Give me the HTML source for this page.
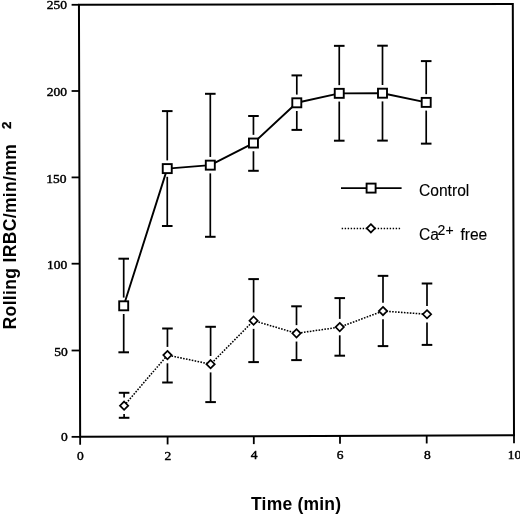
<!DOCTYPE html>
<html><head><meta charset="utf-8"><style>
html,body{margin:0;padding:0;background:#fff;}
body{width:520px;height:515px;overflow:hidden;}
svg{display:block;will-change:transform;}
.tk{font-family:"Liberation Serif",serif;font-size:13.5px;fill:#000;stroke:#000;stroke-width:0.45px;}
.lg{font-family:"Liberation Sans",sans-serif;font-size:15.6px;fill:#000;stroke:#000;stroke-width:0.12px;}
.sup{font-family:"Liberation Sans",sans-serif;font-size:14px;fill:#000;stroke:#000;stroke-width:0.15px;}
.ax{font-family:"Liberation Sans",sans-serif;font-weight:bold;font-size:17.5px;fill:#000;letter-spacing:0.2px;}
.yl{font-size:17.5px;letter-spacing:0.35px;}
.ax2{font-family:"Liberation Sans",sans-serif;font-weight:bold;font-size:13.5px;fill:#000;stroke:#000;stroke-width:0.3px;}
</style></head><body>
<svg width="520" height="515" viewBox="0 0 520 515">
<rect width="520" height="515" fill="#fff"/>
<polygon points="78.95,4.85 512.8,3.9 514,435.25 80.15,436.85" fill="none" stroke="#000" stroke-width="2" stroke-linejoin="miter"/>
<line x1="71.6" y1="436.85" x2="80.15" y2="436.85" stroke="#000" stroke-width="1.8"/>
<line x1="71.6" y1="350.5" x2="79.91" y2="350.5" stroke="#000" stroke-width="1.8"/>
<line x1="71.6" y1="263.7" x2="79.67" y2="263.7" stroke="#000" stroke-width="1.8"/>
<line x1="71.6" y1="177.4" x2="79.43" y2="177.4" stroke="#000" stroke-width="1.8"/>
<line x1="71.6" y1="91" x2="79.19" y2="91" stroke="#000" stroke-width="1.8"/>
<line x1="71.6" y1="4.8" x2="78.95" y2="4.8" stroke="#000" stroke-width="1.8"/>
<line x1="80.15" y1="436.85" x2="80.15" y2="444.75" stroke="#000" stroke-width="1.8"/>
<line x1="167.6" y1="436.53" x2="167.6" y2="444.43" stroke="#000" stroke-width="1.8"/>
<line x1="253.8" y1="436.21" x2="253.8" y2="444.11" stroke="#000" stroke-width="1.8"/>
<line x1="340" y1="435.89" x2="340" y2="443.79" stroke="#000" stroke-width="1.8"/>
<line x1="426.7" y1="435.57" x2="426.7" y2="443.47" stroke="#000" stroke-width="1.8"/>
<line x1="514" y1="435.25" x2="514" y2="443.15" stroke="#000" stroke-width="1.8"/>
<text transform="translate(66.9,9.1) scale(1,0.95)" text-anchor="end" class="tk">250</text>
<text transform="translate(67.1,95.5) scale(1,0.95)" text-anchor="end" class="tk">200</text>
<text transform="translate(66.5,182.5) scale(1,0.95)" text-anchor="end" class="tk">150</text>
<text transform="translate(67.3,268.7) scale(1,0.95)" text-anchor="end" class="tk">100</text>
<text transform="translate(67.8,355.7) scale(1,0.95)" text-anchor="end" class="tk">50</text>
<text transform="translate(67.7,441.4) scale(1,0.95)" text-anchor="end" class="tk">0</text>
<text transform="translate(80.4,460.2) scale(1,0.95)" text-anchor="middle" class="tk">0</text>
<text transform="translate(167.9,459.8) scale(1,0.95)" text-anchor="middle" class="tk">2</text>
<text transform="translate(254.2,459.1) scale(1,0.95)" text-anchor="middle" class="tk">4</text>
<text transform="translate(340,459.1) scale(1,0.95)" text-anchor="middle" class="tk">6</text>
<text transform="translate(427.3,459.1) scale(1,0.95)" text-anchor="middle" class="tk">8</text>
<text transform="translate(514.5,458.9) scale(1,0.95)" text-anchor="middle" class="tk">10</text>
<g stroke="#000" fill="none">
<line x1="123.7" y1="258.7" x2="123.7" y2="297.6" stroke-width="1.7"/><line x1="123.7" y1="314" x2="123.7" y2="352.3" stroke-width="1.7"/><line x1="118.4" y1="258.7" x2="129" y2="258.7" stroke-width="2.0"/><line x1="118.4" y1="352.3" x2="129" y2="352.3" stroke-width="2.0"/>
<line x1="167.25" y1="111.1" x2="167.25" y2="160.4" stroke-width="1.7"/><line x1="167.25" y1="176.8" x2="167.25" y2="226" stroke-width="1.7"/><line x1="161.95" y1="111.1" x2="172.55" y2="111.1" stroke-width="2.0"/><line x1="161.95" y1="226" x2="172.55" y2="226" stroke-width="2.0"/>
<line x1="210.3" y1="93.8" x2="210.3" y2="156.95" stroke-width="1.7"/><line x1="210.3" y1="173.35" x2="210.3" y2="236.8" stroke-width="1.7"/><line x1="205" y1="93.8" x2="215.6" y2="93.8" stroke-width="2.0"/><line x1="205" y1="236.8" x2="215.6" y2="236.8" stroke-width="2.0"/>
<line x1="253.45" y1="116" x2="253.45" y2="134.85" stroke-width="1.7"/><line x1="253.45" y1="151.25" x2="253.45" y2="170.8" stroke-width="1.7"/><line x1="248.15" y1="116" x2="258.75" y2="116" stroke-width="2.0"/><line x1="248.15" y1="170.8" x2="258.75" y2="170.8" stroke-width="2.0"/>
<line x1="296.8" y1="75.4" x2="296.8" y2="94.6" stroke-width="1.7"/><line x1="296.8" y1="111" x2="296.8" y2="129.9" stroke-width="1.7"/><line x1="291.5" y1="75.4" x2="302.1" y2="75.4" stroke-width="2.0"/><line x1="291.5" y1="129.9" x2="302.1" y2="129.9" stroke-width="2.0"/>
<line x1="339.25" y1="45.85" x2="339.25" y2="85.15" stroke-width="1.7"/><line x1="339.25" y1="101.55" x2="339.25" y2="140.7" stroke-width="1.7"/><line x1="333.95" y1="45.85" x2="344.55" y2="45.85" stroke-width="2.0"/><line x1="333.95" y1="140.7" x2="344.55" y2="140.7" stroke-width="2.0"/>
<line x1="382.5" y1="45.7" x2="382.5" y2="85" stroke-width="1.7"/><line x1="382.5" y1="101.4" x2="382.5" y2="140.6" stroke-width="1.7"/><line x1="377.2" y1="45.7" x2="387.8" y2="45.7" stroke-width="2.0"/><line x1="377.2" y1="140.6" x2="387.8" y2="140.6" stroke-width="2.0"/>
<line x1="426.2" y1="61.1" x2="426.2" y2="94.2" stroke-width="1.7"/><line x1="426.2" y1="110.6" x2="426.2" y2="143.65" stroke-width="1.7"/><line x1="420.9" y1="61.1" x2="431.5" y2="61.1" stroke-width="2.0"/><line x1="420.9" y1="143.65" x2="431.5" y2="143.65" stroke-width="2.0"/>
<line x1="124.1" y1="392.8" x2="124.1" y2="397.5" stroke-width="1.7"/><line x1="124.1" y1="413.9" x2="124.1" y2="417.8" stroke-width="1.7"/><line x1="118.8" y1="392.8" x2="129.4" y2="392.8" stroke-width="2.0"/><line x1="118.8" y1="417.8" x2="129.4" y2="417.8" stroke-width="2.0"/>
<line x1="167.45" y1="328.5" x2="167.45" y2="346.9" stroke-width="1.7"/><line x1="167.45" y1="363.3" x2="167.45" y2="382.5" stroke-width="1.7"/><line x1="162.15" y1="328.5" x2="172.75" y2="328.5" stroke-width="2.0"/><line x1="162.15" y1="382.5" x2="172.75" y2="382.5" stroke-width="2.0"/>
<line x1="210.6" y1="326.8" x2="210.6" y2="356" stroke-width="1.7"/><line x1="210.6" y1="372.4" x2="210.6" y2="402.1" stroke-width="1.7"/><line x1="205.3" y1="326.8" x2="215.9" y2="326.8" stroke-width="2.0"/><line x1="205.3" y1="402.1" x2="215.9" y2="402.1" stroke-width="2.0"/>
<line x1="253.6" y1="279.1" x2="253.6" y2="312.45" stroke-width="1.7"/><line x1="253.6" y1="328.85" x2="253.6" y2="362.1" stroke-width="1.7"/><line x1="248.3" y1="279.1" x2="258.9" y2="279.1" stroke-width="2.0"/><line x1="248.3" y1="362.1" x2="258.9" y2="362.1" stroke-width="2.0"/>
<line x1="296.5" y1="306.3" x2="296.5" y2="325.15" stroke-width="1.7"/><line x1="296.5" y1="341.55" x2="296.5" y2="360.1" stroke-width="1.7"/><line x1="291.2" y1="306.3" x2="301.8" y2="306.3" stroke-width="2.0"/><line x1="291.2" y1="360.1" x2="301.8" y2="360.1" stroke-width="2.0"/>
<line x1="339.75" y1="298.1" x2="339.75" y2="318.9" stroke-width="1.7"/><line x1="339.75" y1="335.3" x2="339.75" y2="355.7" stroke-width="1.7"/><line x1="334.45" y1="298.1" x2="345.05" y2="298.1" stroke-width="2.0"/><line x1="334.45" y1="355.7" x2="345.05" y2="355.7" stroke-width="2.0"/>
<line x1="383" y1="275.85" x2="383" y2="302.85" stroke-width="1.7"/><line x1="383" y1="319.25" x2="383" y2="346.1" stroke-width="1.7"/><line x1="377.7" y1="275.85" x2="388.3" y2="275.85" stroke-width="2.0"/><line x1="377.7" y1="346.1" x2="388.3" y2="346.1" stroke-width="2.0"/>
<line x1="427" y1="283.5" x2="427" y2="306.05" stroke-width="1.7"/><line x1="427" y1="322.45" x2="427" y2="344.9" stroke-width="1.7"/><line x1="421.7" y1="283.5" x2="432.3" y2="283.5" stroke-width="2.0"/><line x1="421.7" y1="344.9" x2="432.3" y2="344.9" stroke-width="2.0"/>
</g>
<polyline points="123.7,305.8 167.25,168.6 210.3,165.15 253.45,143.05 296.8,102.8 339.25,93.35 382.5,93.2 426.2,102.4" fill="none" stroke="#000" stroke-width="1.9" stroke-linejoin="round"/>
<polyline points="124.1,405.7 167.45,355.1 210.6,364.2 253.6,320.65 296.5,333.35 339.75,327.1 383,311.05 427,314.25" fill="none" stroke="#000" stroke-width="1.55" stroke-dasharray="1.6 1.35"/>
<rect x="119.2" y="301.3" width="9" height="9" fill="#fff" stroke="#000" stroke-width="1.9"/>
<rect x="162.75" y="164.1" width="9" height="9" fill="#fff" stroke="#000" stroke-width="1.9"/>
<rect x="205.8" y="160.65" width="9" height="9" fill="#fff" stroke="#000" stroke-width="1.9"/>
<rect x="248.95" y="138.55" width="9" height="9" fill="#fff" stroke="#000" stroke-width="1.9"/>
<rect x="292.3" y="98.3" width="9" height="9" fill="#fff" stroke="#000" stroke-width="1.9"/>
<rect x="334.75" y="88.85" width="9" height="9" fill="#fff" stroke="#000" stroke-width="1.9"/>
<rect x="378" y="88.7" width="9" height="9" fill="#fff" stroke="#000" stroke-width="1.9"/>
<rect x="421.7" y="97.9" width="9" height="9" fill="#fff" stroke="#000" stroke-width="1.9"/>
<polygon points="124.1,401.55 128.25,405.7 124.1,409.85 119.95,405.7" fill="#fff" stroke="#000" stroke-width="1.7" stroke-linejoin="miter"/>
<polygon points="167.45,350.95 171.6,355.1 167.45,359.25 163.3,355.1" fill="#fff" stroke="#000" stroke-width="1.7" stroke-linejoin="miter"/>
<polygon points="210.6,360.05 214.75,364.2 210.6,368.35 206.45,364.2" fill="#fff" stroke="#000" stroke-width="1.7" stroke-linejoin="miter"/>
<polygon points="253.6,316.5 257.75,320.65 253.6,324.8 249.45,320.65" fill="#fff" stroke="#000" stroke-width="1.7" stroke-linejoin="miter"/>
<polygon points="296.5,329.2 300.65,333.35 296.5,337.5 292.35,333.35" fill="#fff" stroke="#000" stroke-width="1.7" stroke-linejoin="miter"/>
<polygon points="339.75,322.95 343.9,327.1 339.75,331.25 335.6,327.1" fill="#fff" stroke="#000" stroke-width="1.7" stroke-linejoin="miter"/>
<polygon points="383,306.9 387.15,311.05 383,315.2 378.85,311.05" fill="#fff" stroke="#000" stroke-width="1.7" stroke-linejoin="miter"/>
<polygon points="427,310.1 431.15,314.25 427,318.4 422.85,314.25" fill="#fff" stroke="#000" stroke-width="1.7" stroke-linejoin="miter"/>
<line x1="341" y1="188.1" x2="401.6" y2="188.1" stroke="#000" stroke-width="1.9"/>
<rect x="366.6" y="183.6" width="9" height="9" fill="#fff" stroke="#000" stroke-width="1.9"/>
<line x1="341.7" y1="228.5" x2="401" y2="228.5" stroke="#000" stroke-width="1.45" stroke-dasharray="1.4 1.6"/>
<polygon points="370.9,224.15 375.05,228.3 370.9,232.45 366.75,228.3" fill="#fff" stroke="#000" stroke-width="1.7"/>
<text x="419" y="196.3" class="lg">Control</text>
<text x="419" y="240.3" class="lg">Ca</text>
<text x="437.4" y="235.4" class="sup">2</text>
<text x="445.6" y="235.4" class="sup">+</text>
<text x="460.4" y="240.3" class="lg">free</text>
<text x="251" y="510.2" class="ax">Time (min)</text>
<text transform="translate(15.9,329.4) rotate(-90)" x="0" y="0" class="ax yl">Rolling IRBC/min/mm</text>
<text transform="translate(11.2,129) rotate(-90)" x="0" y="0" class="ax2">2</text>
</svg>
</body></html>
